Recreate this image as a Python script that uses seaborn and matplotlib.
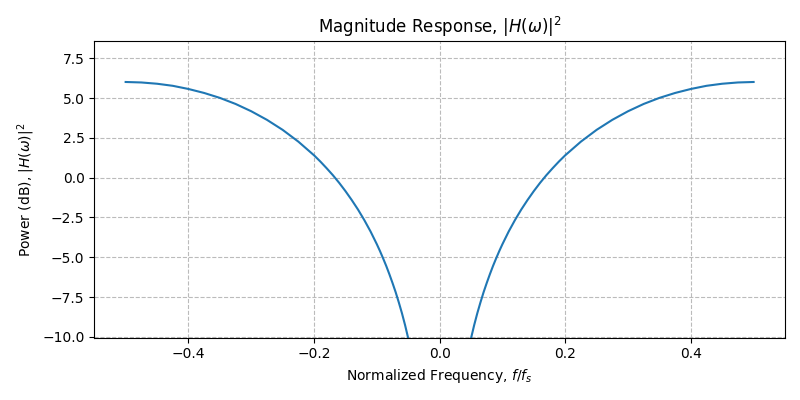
import numpy as np
import pandas as pd
import matplotlib
matplotlib.use('Agg')
import matplotlib.pyplot as plt
import seaborn as sns

# Positive-frequency half of the response (dB)
freq_pos = [0.03, 0.04, 0.045, 0.05, 0.055, 0.06, 0.065, 0.07, 0.075, 0.08, 0.085, 0.09, 0.095,
            0.10, 0.11, 0.12, 0.13, 0.14, 0.15, 0.16, 0.17, 0.18, 0.19, 0.20,
            0.225, 0.25, 0.275, 0.30, 0.325, 0.35, 0.375, 0.40,
            0.425, 0.45, 0.475, 0.50]
power_db = [-14.5, -12.0, -11.0, -10.1, -9.27, -8.52, -7.84, -7.20, -6.62, -6.07, -5.55, -5.07, -4.61,
            -4.18, -3.38, -2.66, -2.00, -1.40, -0.84, -0.32, 0.16, 0.60, 1.02, 1.41,
            2.27, 3.01, 3.64, 4.18, 4.64, 5.02, 5.33, 5.58,
            5.78, 5.91, 5.99, 6.02]

pos = pd.DataFrame({'freq': freq_pos, 'power': power_db})
neg = pd.DataFrame({'freq': [-f for f in freq_pos], 'power': power_db})

fig, ax = plt.subplots(figsize=(8, 4), dpi=100)
sns.lineplot(data=neg, x='freq', y='power', color='#1f77b4', ax=ax, sort=True)
sns.lineplot(data=pos, x='freq', y='power', color='#1f77b4', ax=ax, sort=True)

ax.set_xlim(-0.55, 0.55)
ax.set_ylim(-10.06, 8.57)
ax.grid(True, linestyle='--', color='#bbbbbb')
ax.set_title(r'Magnitude Response, $|H(\omega)|^2$')
ax.set_xlabel(r'Normalized Frequency, $f/f_s$')
ax.set_ylabel(r'Power (dB), $|H(\omega)|^2$')

plt.tight_layout()
plt.savefig('out.png')
